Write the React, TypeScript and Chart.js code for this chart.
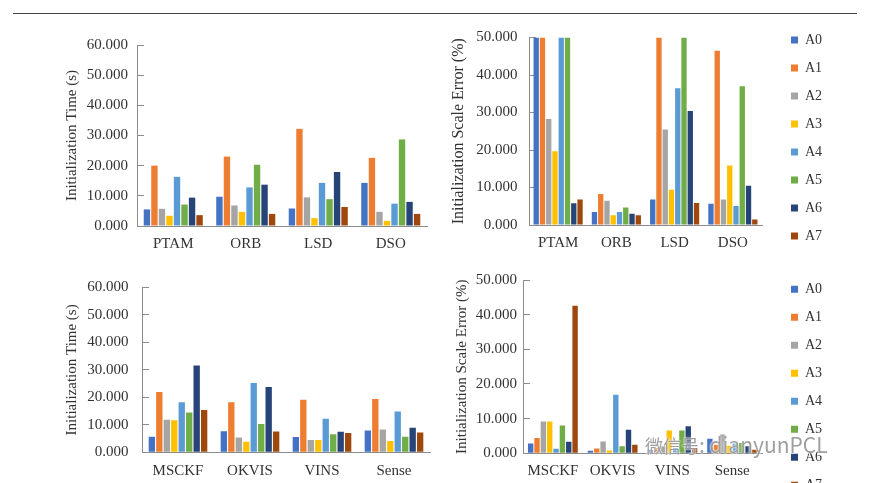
import React, { useEffect, useRef } from 'react';
import { Chart, registerables } from 'chart.js';

Chart.register(...registerables);

// ---------- data ----------
const SERIES = ['A0', 'A1', 'A2', 'A3', 'A4', 'A5', 'A6', 'A7'];
const SERIES_COLORS = ['#4472C4', '#ED7D31', '#A5A5A5', '#FFC000', '#5B9BD5', '#70AD47', '#264478', '#9E480E'];

const VISUAL_METHODS = ['PTAM', 'ORB', 'LSD', 'DSO'];
const VI_METHODS = ['MSCKF', 'OKVIS', 'VINS', 'Sense'];

// rows: A0..A7, columns: methods
const VISUAL_TIME = [
  [5.5, 9.7, 5.8, 14.3],
  [20.0, 23.0, 32.2, 22.6],
  [5.7, 6.8, 9.5, 4.7],
  [3.4, 4.7, 2.6, 1.7],
  [16.3, 12.8, 14.3, 7.4],
  [7.1, 20.3, 8.9, 28.7],
  [9.4, 13.7, 17.9, 8.0],
  [3.6, 4.0, 6.3, 4.0],
];
const VISUAL_ERROR = [
  [50.0, 3.5, 6.8, 5.7],
  [50.0, 8.3, 50.0, 46.5],
  [28.3, 6.5, 25.5, 6.8],
  [19.7, 2.6, 9.4, 15.9],
  [50.0, 3.5, 36.5, 5.1],
  [50.0, 4.7, 50.0, 37.0],
  [5.8, 3.0, 30.4, 10.5],
  [6.8, 2.6, 5.9, 1.5],
];
const VI_TIME = [
  [5.7, 7.7, 5.6, 7.9],
  [21.9, 18.2, 19.1, 19.4],
  [11.8, 5.4, 4.5, 8.3],
  [11.7, 3.8, 4.5, 4.1],
  [18.2, 25.2, 12.2, 14.8],
  [14.5, 10.3, 6.6, 5.7],
  [31.6, 23.8, 7.5, 8.9],
  [15.4, 7.6, 7.0, 7.2],
];
const VI_ERROR = [
  [2.8, 0.7, 1.0, 4.2],
  [4.4, 1.4, 1.5, 2.5],
  [9.2, 3.4, 2.0, 5.4],
  [9.2, 0.8, 6.6, 2.2],
  [1.3, 16.9, 1.5, 2.8],
  [8.0, 2.0, 6.6, 3.0],
  [3.3, 6.8, 7.8, 2.0],
  [42.6, 2.5, 1.5, 1.0],
];

const TIME_TICKS = [0, 10, 20, 30, 40, 50, 60];
const ERROR_TICKS = [0, 10, 20, 30, 40, 50];

const TIME_TITLE = 'Initialization Time (s)';
const ERROR_TITLE = 'Initialization Scale Error (%)';
const WATERMARK_CN = '微信号';
const WATERMARK_ID = ': dianyunPCL';

// ---------- styles ----------
const SERIF = '"Liberation Serif", "Times New Roman", serif';
const AXIS_COLOR = '#8c8c8c';
const TEXT_COLOR = '#333333';
const LEG_FONT = 14;
const LEG_PAD = 14;
const LEG_BOX = 7;

type Box = { left: number; top: number; width: number; height: number };
type Area = { left: number; top: number; right: number; bottom: number };

type PanelProps = {
  labels: string[];
  values: number[][];
  ticks: number[];
  yTitle: string;
  titleSize: number;
  box: Box;
  area: Area; // in canvas coordinates
  titleCenter: number; // canvas x of title center
  tickGap: number;
  labelGap: number;
  catPct: number;
  legend?: { firstY: number; boxX: number };
};

function Panel(p: PanelProps) {
  const ref = useRef<HTMLCanvasElement>(null);

  useEffect(() => {
    const canvas = ref.current!;
    const { box, area, legend } = p;
    const W = box.width;
    const H = box.height;
    let padTop = area.top;
    let padRight = W - area.right;
    let gapTop = 0;
    let gapRight = 0;
    if (legend) {
      const m = document.createElement('canvas').getContext('2d')!;
      m.font = `${LEG_FONT}px ${SERIF}`;
      const textW = Math.max(...SERIES.map((s) => m.measureText(s).width));
      const legendW = LEG_PAD + LEG_BOX + LEG_FONT / 2 + textW + 10;
      padTop = legend.firstY - LEG_PAD - LEG_FONT / 2;
      gapTop = area.top - padTop;
      const legendLeft = legend.boxX - LEG_PAD;
      gapRight = legendLeft - area.right;
      padRight = W - legendLeft - legendW;
    }
    const xHeight = H - area.bottom;

    const scales: any = {
      x: {
        ticks: {
          color: TEXT_COLOR,
          font: { family: SERIF, size: 15 },
          padding: p.labelGap,
          maxRotation: 0,
          autoSkip: false,
        },
        grid: { display: false, drawTicks: false },
        border: { display: true, color: AXIS_COLOR, width: 1 },
        afterFit: (s: any) => {
          s.height = xHeight;
        },
      },
      y: {
        min: p.ticks[0],
        max: p.ticks[p.ticks.length - 1],
        afterBuildTicks: (s: any) => {
          s.ticks = p.ticks.map((v) => ({ value: v }));
        },
        ticks: {
          color: TEXT_COLOR,
          font: { family: SERIF, size: 15 },
          padding: p.tickGap + 7,
          callback: (v: any) => Number(v).toFixed(3),
        },
        grid: {
          display: true,
          drawOnChartArea: false,
          drawTicks: true,
          tickLength: -7,
          color: AXIS_COLOR,
          lineWidth: 1,
        },
        border: { display: true, color: AXIS_COLOR, width: 1 },
        title: {
          display: true,
          text: p.yTitle,
          color: TEXT_COLOR,
          font: { family: SERIF, size: p.titleSize },
          padding: { top: p.titleCenter - (p.titleSize * 1.2) / 2, bottom: 0 },
        },
        afterFit: (s: any) => {
          s.width = area.left;
        },
      },
    };
    if (legend) {
      scales.xGap = {
        position: 'top',
        display: true,
        grid: { display: false, drawTicks: false },
        border: { display: false },
        ticks: { display: false },
        afterFit: (s: any) => {
          s.height = gapTop;
        },
      };
      scales.yGap = {
        position: 'right',
        display: true,
        grid: { display: false, drawTicks: false },
        border: { display: false },
        ticks: { display: false },
        afterFit: (s: any) => {
          s.width = gapRight;
        },
      };
    }

    const chart = new Chart(canvas, {
      type: 'bar',
      data: {
        labels: p.labels,
        datasets: SERIES.map((name, i) => ({
          label: name,
          data: p.values[i],
          backgroundColor: SERIES_COLORS[i],
          borderWidth: 0,
          barPercentage: 0.85,
          categoryPercentage: p.catPct,
          xAxisID: 'x',
          yAxisID: 'y',
        })),
      },
      options: {
        responsive: false,
        animation: false,
        devicePixelRatio: 1,
        layout: { padding: { left: 0, top: padTop, right: padRight, bottom: 0 } },
        scales,
        plugins: {
          tooltip: { enabled: false },
          title: { display: false },
          legend: legend
            ? {
                display: true,
                position: 'right',
                align: 'start',
                labels: {
                  boxWidth: LEG_BOX,
                  boxHeight: LEG_BOX,
                  padding: LEG_PAD,
                  color: TEXT_COLOR,
                  font: { family: SERIF, size: LEG_FONT },
                },
              }
            : { display: false },
        },
      },
    });
    return () => chart.destroy();
  }, []);

  return (
    <canvas
      ref={ref}
      width={p.box.width}
      height={p.box.height}
      style={{ position: 'absolute', left: p.box.left, top: p.box.top, width: p.box.width, height: p.box.height }}
    />
  );
}

export default function App() {
  return (
    <div
      style={{
        position: 'absolute',
        left: 0,
        top: 0,
        width: 875,
        height: 483,
        overflow: 'hidden',
        background: '#ffffff',
      }}
    >
      <div style={{ position: 'absolute', left: 13, top: 13, width: 844, height: 0, borderTop: '1px solid #444' }} />
      <Panel
        labels={VISUAL_METHODS}
        values={VISUAL_TIME}
        ticks={TIME_TICKS}
        yTitle={TIME_TITLE}
        titleSize={15}
        box={{ left: 0, top: 20, width: 440, height: 240 }}
        area={{ left: 137, top: 13, right: 427, bottom: 206 }}
        titleCenter={72}
        tickGap={9}
        labelGap={9}
        catPct={0.83}
      />
      <Panel
        labels={VISUAL_METHODS}
        values={VISUAL_ERROR}
        ticks={ERROR_TICKS}
        yTitle={ERROR_TITLE}
        titleSize={16}
        box={{ left: 430, top: 10, width: 445, height: 250 }}
        area={{ left: 99, top: 23, right: 332, bottom: 215 }}
        titleCenter={29}
        tickGap={11.5}
        labelGap={9.5}
        catPct={0.86}
        legend={{ firstY: 30, boxX: 361 }}
      />
      <Panel
        labels={VI_METHODS}
        values={VI_TIME}
        ticks={TIME_TICKS}
        yTitle={TIME_TITLE}
        titleSize={15}
        box={{ left: 0, top: 258, width: 440, height: 225 }}
        area={{ left: 142, top: 16, right: 430, bottom: 194.3 }}
        titleCenter={71.7}
        tickGap={13.4}
        labelGap={9.5}
        catPct={0.83}
      />
      <Panel
        labels={VI_METHODS}
        values={VI_ERROR}
        ticks={ERROR_TICKS}
        yTitle={ERROR_TITLE}
        titleSize={15}
        box={{ left: 430, top: 258, width: 445, height: 260 }}
        area={{ left: 93, top: 18, right: 332, bottom: 195.3 }}
        titleCenter={32.5}
        tickGap={6}
        labelGap={8.5}
        catPct={0.85}
        legend={{ firstY: 31.3, boxX: 361 }}
      />
      <div
        style={{
          position: 'absolute',
          left: 645,
          top: 430,
          fontFamily: '"Noto Sans CJK SC", "Noto Sans", sans-serif',
          color: 'rgba(135,135,135,0.8)',
          textShadow: '0 0 2px #fff, 0 0 2px #fff',
          whiteSpace: 'nowrap',
          pointerEvents: 'none',
          lineHeight: '28px',
        }}
      >
        <span style={{ fontSize: 18 }}>{WATERMARK_CN}</span>
        <span style={{ fontSize: 21 }}>{WATERMARK_ID}</span>
      </div>
    </div>
  );
}
